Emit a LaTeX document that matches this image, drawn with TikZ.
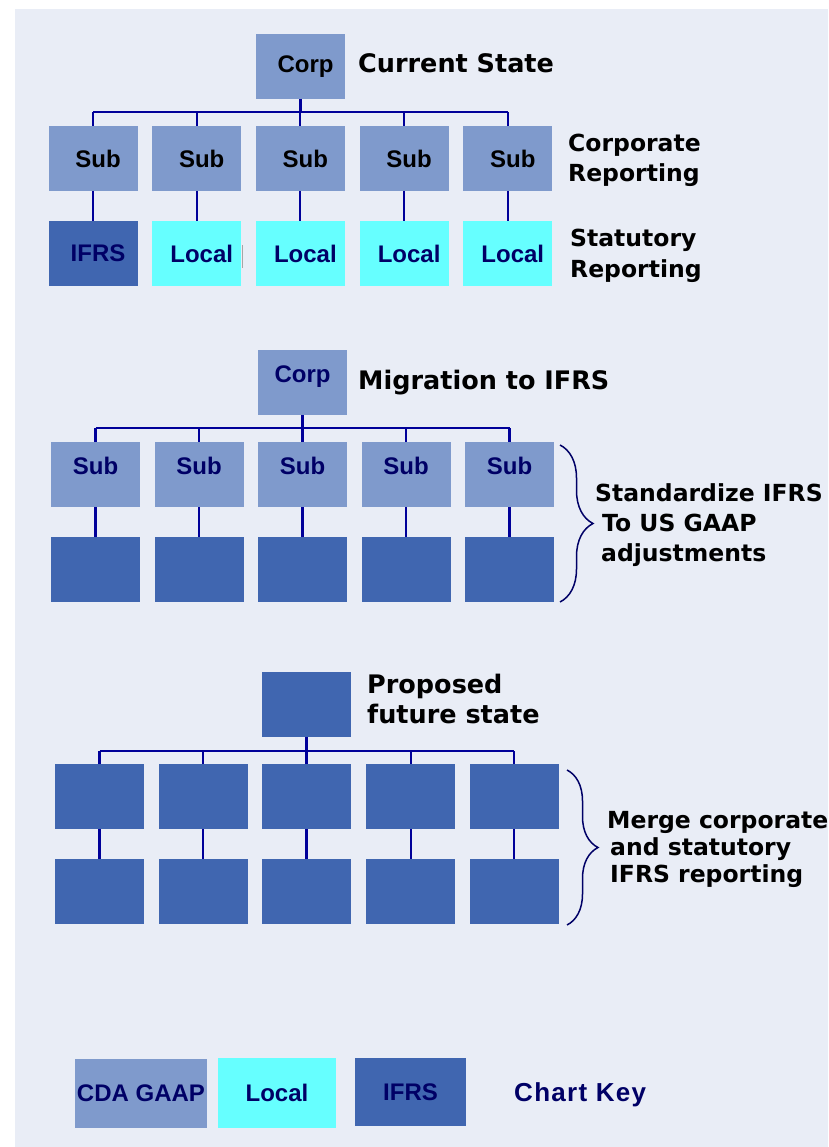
\documentclass[tikz,border=0pt]{standalone}
\usepackage{fontspec}
\setmainfont{Liberation Sans}
\newfontfamily\headfont{DejaVu Sans}
\usetikzlibrary{decorations.pathreplacing}
\definecolor{paleback}{HTML}{E9EDF6}
\definecolor{gaapblue}{HTML}{7F9ACC}
\definecolor{localcyan}{HTML}{66FFFF}
\definecolor{ifrsblue}{HTML}{4066B0}
\definecolor{wireblue}{HTML}{000099}
\definecolor{inknavy}{HTML}{000066}

\begin{document}
\begin{tikzpicture}[x=1pt,y=-1pt,
    box/.style={minimum width=89pt,minimum height=65pt,inner sep=0pt,outer sep=0pt,
      font=\fontsize{24}{27}\selectfont\bfseries},
    gaap/.style={box,fill=gaapblue},
    local/.style={box,fill=localcyan,text=inknavy},
    ifrs/.style={box,fill=ifrsblue,text=inknavy},
    nudge/.style={execute at begin node=\hspace*{10pt}},
    toptext/.style={text height=32pt,text depth=33pt,text=inknavy},
    wire/.style={draw=wireblue,line width=2.1pt},
    trunk/.style={draw=wireblue,line width=3pt},
    heading/.style={anchor=base west,inner sep=0pt,align=left,
      font=\headfont\fontsize{25.5}{30}\selectfont\bfseries},
    side/.style={anchor=base west,inner sep=0pt,align=left,
      font=\headfont\fontsize{23.5}{30}\selectfont\bfseries},
    curly/.style={draw=inknavy,line width=1.5pt,decorate,decoration={brace,amplitude=#1}}]
    \useasboundingbox (0,0) rectangle (828,1147);
    \fill[paleback] (15,9) rectangle (828,1147);

    \node[gaap,nudge] (corpA) at (300.5,66.5) {Corp};
    \node[heading] (titleA) at (358,73) {Current State};
    \coordinate (busA) at (0,112);
    \foreach \x [count=\i] in {93,196.7,300.4,404.1,507.8}
        \node[gaap,nudge] (subA\i) at (\x,158.5) {Sub};
    \node[ifrs,nudge] (statA1) at (93,253.5) {IFRS};
    \foreach \x [count=\i from 2] in {196.7,300.4,404.1,507.8}
        \node[local,nudge] (statA\i) at (\x,253.5) {Local};
    \draw[trunk] (corpA) -- (corpA |- busA);
    \draw[wire] (subA1 |- busA) -- (subA5 |- busA);
    \foreach \i in {1,...,5} {
        \draw[wire] (subA\i |- busA) -- (subA\i);
        \draw[wire] (subA\i) -- (statA\i);
    }
    \draw[gray!70,line width=1pt] (242,245) -- (242,268);
    \node[side] (noteA1) at (568,182) {Corporate\\Reporting};
    \node[side] (noteA2) at (570,277) {Statutory\\Reporting};

    \node[gaap,toptext] (corpB) at (302.5,382.5) {Corp};
    \node[heading] (titleB) at (358,389) {Migration to IFRS};
    \coordinate (busB) at (0,428);
    \foreach \x [count=\i] in {95.5,199,302.5,406,509.5} {
        \node[gaap,toptext] (subB\i) at (\x,474.5) {Sub};
        \node[ifrs] (statB\i) at (\x,569.5) {};
    }
    \draw[trunk] (corpB) -- (corpB |- busB);
    \draw[wire] (subB1 |- busB) -- (subB5 |- busB);
    \foreach \i in {1,...,5} {
        \draw[wire] (subB\i |- busB) -- (subB\i);
        \draw[wire] (subB\i) -- (statB\i);
    }
    \draw[curly=33pt] (560,445) -- (560,602);
    \node[side] (noteB) at (595,561) {Standardize IFRS\\\hspace*{7pt}To US GAAP\\\hspace*{6pt}adjustments};

    \node[ifrs] (corpC) at (306.5,704) {};
    \node[heading] (titleC) at (367,723) {Proposed\\future state};
    \coordinate (busC) at (0,751);
    \foreach \x [count=\i] in {99.5,203.2,306.5,410.6,514.3} {
        \node[ifrs] (subC\i) at (\x,796.5) {};
        \node[ifrs] (statC\i) at (\x,891.5) {};
    }
    \draw[trunk] (corpC) -- (corpC |- busC);
    \draw[wire] (subC1 |- busC) -- (subC5 |- busC);
    \foreach \i in {1,...,5} {
        \draw[wire] (subC\i |- busC) -- (subC\i);
        \draw[wire] (subC\i) -- (statC\i);
    }
    \draw[curly=31pt] (567,770) -- (567,925);
    \node[side,font=\headfont\fontsize{23.5}{27}\selectfont\bfseries] (noteC) at (607,882) {Merge corporate\\\hspace*{3pt}and statutory\\\hspace*{3pt}IFRS reporting};

    \node[gaap,text=inknavy,minimum width=132pt,minimum height=69pt] (keyGaap) at (141,1093.5) {CDA GAAP};
    \node[local,minimum width=118pt,minimum height=70pt] (keyLocal) at (277,1093) {Local};
    \node[ifrs,minimum width=111pt,minimum height=68pt] (keyIfrs) at (410.5,1092) {IFRS};
    \node[anchor=base west,inner sep=0pt,text=inknavy,
      font=\fontsize{26}{30}\selectfont\bfseries\addfontfeature{LetterSpace=5}] (keyTitle) at (514,1101) {Chart Key};
\end{tikzpicture}
\end{document}
